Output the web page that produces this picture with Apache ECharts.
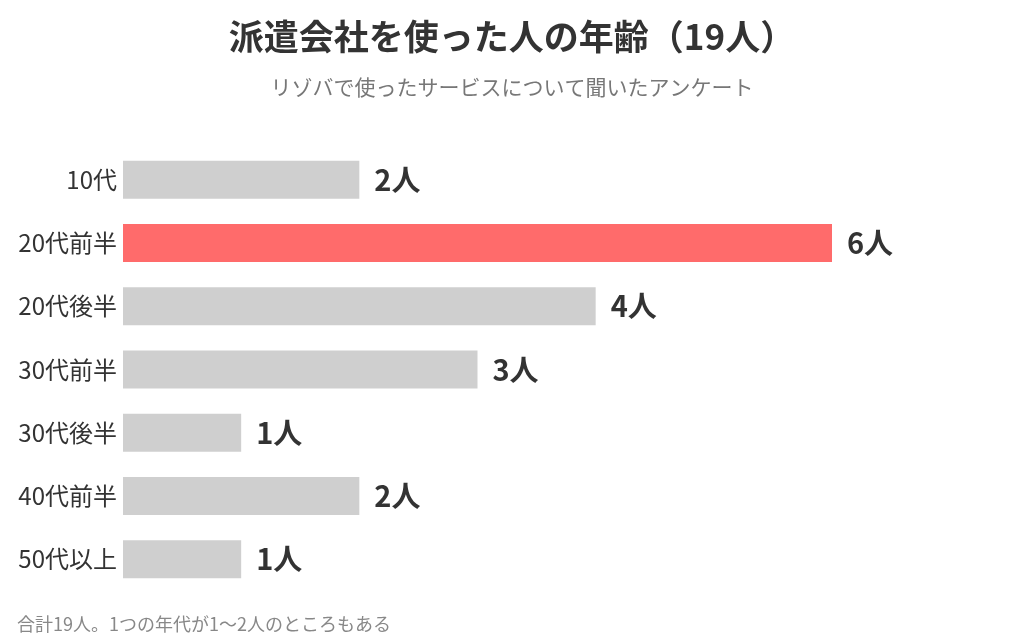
<!DOCTYPE html>
<html>
<head>
<meta charset="utf-8">
<script src="https://cdn.jsdelivr.net/npm/echarts@6/dist/echarts.min.js"></script>
<style>
  html, body { margin: 0; padding: 0; background: #fff; }
  #chart-wrapper { width: 1024px; height: 640px; }
</style>
</head>
<body>
<div id="chart-wrapper"></div>
<script>
const categories = ["10代", "20代前半", "20代後半", "30代前半", "30代後半", "40代前半", "50代以上"];
const counts = [2, 6, 4, 3, 1, 2, 1];
const highlightIndex = 1;

const FONT = '"Noto Sans CJK JP", "Noto Sans", sans-serif';

const chartDom = document.getElementById("chart-wrapper");
const chart = echarts.init(chartDom);

const option = {
  backgroundColor: "#fff",
  animation: false,
  title: [
    {
      text: "派遣会社を使った人の年齢（19人）",
      left: "center",
      top: 14,
      textStyle: { fontFamily: FONT, fontSize: 35, fontWeight: "bold", color: "#333" },
    },
    {
      text: "リゾバで使ったサービスについて聞いたアンケート",
      left: "center",
      top: 72,
      textStyle: { fontFamily: FONT, fontSize: 21, fontWeight: "normal", color: "#777" },
    },
    {
      text: "合計19人。1つの年代が1〜2人のところもある",
      left: 12,
      top: 610,
      textStyle: { fontFamily: FONT, fontSize: 18, fontWeight: "normal", color: "#888" },
    },
  ],
  grid: { left: 123, right: 192, top: 148, bottom: 49 },
  xAxis: {
    type: "value",
    min: 0,
    max: 6,
    show: false,
  },
  yAxis: {
    type: "category",
    data: categories,
    inverse: true,
    axisLine: { show: false },
    axisTick: { show: false },
    axisLabel: { fontFamily: FONT, fontSize: 24, color: "#333", margin: 6 },
  },
  series: [
    {
      type: "bar",
      barWidth: 38,
      data: counts.map((v, i) => ({
        value: v,
        itemStyle: { color: i === highlightIndex ? "#ff6b6b" : "#cfcfcf" },
      })),
      label: {
        show: true,
        position: "right",
        distance: 15,
        formatter: (p) => p.value + "人",
        fontFamily: FONT,
        fontSize: 29,
        fontWeight: "bold",
        color: "#333",
      },
    },
  ],
};

chart.setOption(option);
</script>
</body>
</html>
